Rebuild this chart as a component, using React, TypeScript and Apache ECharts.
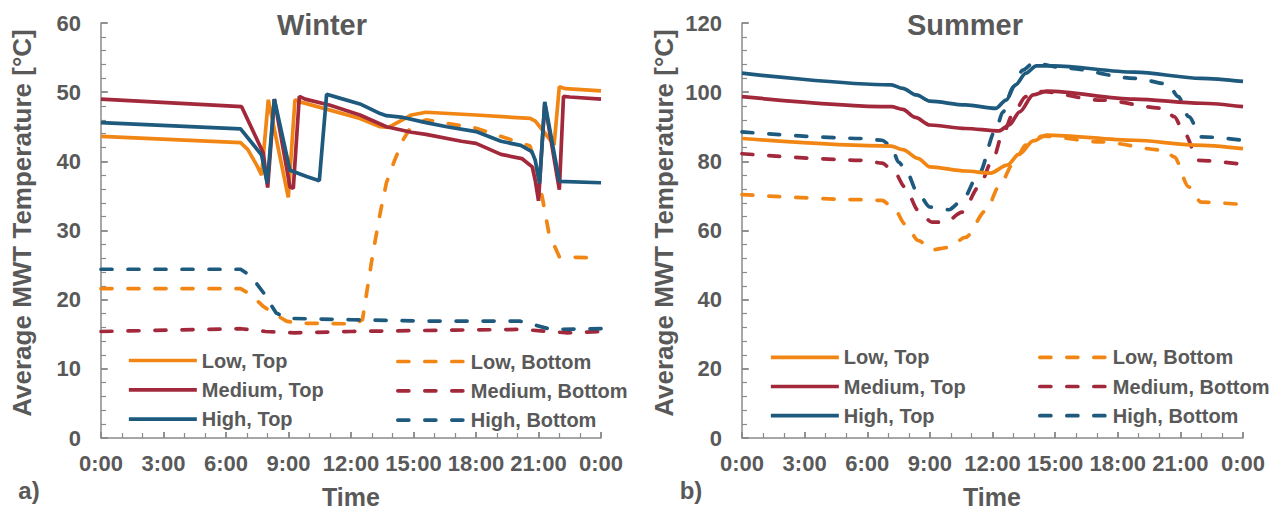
import React, { useEffect, useRef } from "react";
import * as echarts from "echarts";

// ---------- Data (hour of day, temperature °C) ----------
// Winter
const winterLowTop: number[][] = [[0,43.6],[6.7,42.7],[7.05,41.7],[7.5,39.3],[7.71,38.0],[8.03,48.9],[8.99,34.8],[9.31,48.9],[9.55,48.6],[11.0,47.4],[12.43,46.2],[13.4,45.0],[13.8,44.9],[14.4,45.9],[14.9,46.7],[15.6,47.1],[18.0,46.7],[20.6,46.2],[20.85,45.8],[21.3,44.1],[21.75,42.4],[22.0,50.8],[22.3,50.5],[24,50.2]];
const winterMediumTop: number[][] = [[0,49.0],[6.75,47.9],[7.79,41.2],[8.0,36.2],[8.32,49.0],[9.07,36.3],[9.23,36.1],[9.52,49.4],[9.8,49.0],[11.0,48.1],[12.43,46.7],[13.7,45.0],[14.9,44.2],[15.6,43.9],[17.3,42.9],[18.0,42.6],[19.2,41.0],[20.2,40.4],[20.7,39.2],[20.84,37.3],[21.0,34.3],[21.3,48.4],[22.0,35.9],[22.2,49.4],[22.5,49.3],[24,49.0]];
const winterHighTop: number[][] = [[0,45.6],[6.7,44.7],[7.71,40.9],[7.98,36.8],[8.32,49.0],[9.07,38.7],[9.87,37.8],[10.48,37.2],[10.83,49.7],[11.5,49.1],[12.43,48.3],[13.4,46.9],[13.7,46.6],[14.4,46.4],[15.6,45.6],[16.6,45.0],[18.0,44.3],[19.2,42.9],[20.15,42.3],[20.68,41.4],[20.84,40.2],[21.05,36.8],[21.3,48.6],[22.0,37.1],[24,36.9]];
const winterLowBottom: number[][] = [[0,21.6],[6.7,21.6],[7.2,20.7],[7.8,19.0],[8.4,17.8],[8.9,16.9],[9.45,16.6],[12.2,16.5],[12.55,17.1],[12.8,21.9],[13.05,26.7],[13.4,32.5],[13.7,36.9],[14.1,40.2],[14.5,43.1],[14.9,45.1],[15.6,46.0],[18.0,44.8],[19.4,43.4],[20.6,42.2],[20.95,38.3],[21.2,34.5],[21.5,29.6],[22.0,26.2],[24,26.0]];
const winterMediumBottom: number[][] = [[0,15.4],[6.7,15.8],[7.9,15.4],[9.3,15.2],[12,15.4],[17,15.6],[20.2,15.7],[22.4,15.2],[24,15.4]];
const winterHighBottom: number[][] = [[0,24.4],[6.7,24.4],[7.2,23.4],[7.8,21.0],[8.4,18.1],[8.9,17.3],[12,17.1],[15.6,16.9],[20.1,16.9],[20.75,16.4],[21.6,15.7],[24,15.8]];

// Summer
const summerLowTop: number[][] = [[0,86.6],[7.15,84.4],[7.7,83.4],[8.45,80.8],[9.0,78.4],[10.7,77.2],[11.9,76.6],[12.7,78.9],[13.3,82.2],[13.95,85.9],[14.6,87.6],[18.8,86.1],[21.7,84.7],[24,83.7]];
const summerMediumTop: number[][] = [[0,98.7],[7.15,95.8],[7.7,95.0],[8.3,92.7],[9.0,90.5],[10.7,89.5],[12.3,88.8],[12.8,90.5],[13.3,94.3],[13.95,99.2],[14.6,100.3],[18.8,98.0],[22,96.8],[24,95.8]];
const summerHighTop: number[][] = [[0,105.5],[7.15,102.1],[7.7,101.1],[8.35,99.2],[9.0,97.4],[10.7,96.3],[12.15,95.3],[12.65,97.7],[13.1,102.1],[13.6,105.5],[14.1,107.6],[14.9,107.6],[18.8,105.8],[22.0,104.0],[24,103.1]];
const summerLowBottom: number[][] = [[0,70.4],[5.85,68.9],[6.7,68.7],[7.3,66.3],[7.8,61.9],[8.45,57.1],[9.1,54.4],[9.9,55.1],[10.7,58.0],[11.7,65.8],[12.3,72.6],[13.0,79.3],[13.6,84.7],[14.4,87.3],[17.2,85.6],[20.25,83.2],[20.7,81.3],[21.4,72.6],[22.0,68.2],[24,67.5]];
const summerMediumBottom: number[][] = [[0,82.2],[5.85,80.3],[6.7,79.5],[7.3,76.9],[7.8,72.6],[8.45,65.8],[9.1,62.4],[9.75,62.4],[10.55,65.3],[11.35,72.6],[12.0,80.3],[12.5,88.1],[13.0,93.9],[13.6,98.7],[14.25,100.2],[17.2,97.7],[20.25,95.3],[20.7,92.9],[21.2,88.1],[21.85,80.3],[24,79.1]];
const summerHighBottom: number[][] = [[0,88.5],[5.85,86.6],[6.7,86.1],[7.15,84.4],[7.5,79.8],[7.8,77.9],[8.45,70.6],[9.0,66.8],[9.9,66.0],[10.55,68.7],[11.35,76.4],[12.15,89.0],[12.5,94.3],[13.0,101.6],[13.45,106.4],[13.95,108.4],[15.55,106.9],[18.8,104.0],[20.4,102.4],[20.9,98.7],[21.4,92.9],[22.0,87.1],[24,86.1]];

const seriesNames = ["Low, Top", "Medium, Top", "High, Top", "Low, Bottom", "Medium, Bottom", "High, Bottom"];
const chartTitles = ["Winter", "Summer"];
const yMax = [60, 120];
const yInterval = [10, 20];

// ---------- Styles ----------
const FONT = '"Liberation Sans", Arial, Helvetica, sans-serif';
const GRAY = "#595959";
const AXIS = "#8a8a8a";
const ORANGE = "#F28614";
const RED = "#A2283B";
const BLUE = "#1E5A7D";
const COLORS = [ORANGE, RED, BLUE, ORANGE, RED, BLUE];

export default function App() {
  const ref = useRef<HTMLDivElement>(null);

  useEffect(() => {
    if (!ref.current) return;
    const chart = echarts.init(ref.current, undefined, { renderer: "svg" });

    const grids = [
      { left: 101, top: 23, width: 500, height: 415 },
      { left: 742, top: 23, width: 501, height: 415 },
    ];
    const datasets = [
      [winterLowTop, winterMediumTop, winterHighTop, winterLowBottom, winterMediumBottom, winterHighBottom],
      [summerLowTop, summerMediumTop, summerHighTop, summerLowBottom, summerMediumBottom, summerHighBottom],
    ];

    const labelStyle = { color: GRAY, fontSize: 22, fontWeight: "bold" as const, fontFamily: FONT };

    const xAxes: any[] = [];
    const yAxes: any[] = [];
    [0, 1].forEach((g) => {
      xAxes.push({
        type: "value", gridIndex: g, min: 0, max: 24, interval: 3,
        axisLine: { show: true, lineStyle: { color: AXIS, width: 1.5 } },
        axisTick: { show: true, inside: true, length: 6, lineStyle: { color: AXIS, width: 1.5 } },
        minorTick: { show: true, splitNumber: 3, length: 5, lineStyle: { color: AXIS, width: 1.2 } },
        splitLine: { show: false },
        axisLabel: { ...labelStyle, margin: 14, formatter: (v: number) => `${v % 24}:00` },
      });
      yAxes.push({
        type: "value", gridIndex: g, min: 0, max: yMax[g], interval: yInterval[g],
        axisLine: { show: true, lineStyle: { color: AXIS, width: 1.5 } },
        axisTick: { show: true, inside: true, length: 6, lineStyle: { color: AXIS, width: 1.5 } },
        minorTick: { show: true, splitNumber: 5, length: 5, lineStyle: { color: AXIS, width: 1.2 } },
        splitLine: { show: false },
        axisLabel: { ...labelStyle, margin: 20 },
      });
    });
    // overlay axes for outside half of major ticks
    [0, 1].forEach((g) => {
      xAxes.push({
        type: "value", gridIndex: g, min: 0, max: 24, interval: 3,
        axisLine: { show: false }, splitLine: { show: false }, axisLabel: { show: false },
        axisTick: { show: true, inside: false, length: 6, lineStyle: { color: AXIS, width: 1.5 } },
      });
      yAxes.push({
        type: "value", gridIndex: g, min: 0, max: yMax[g], interval: yInterval[g],
        axisLine: { show: false }, splitLine: { show: false }, axisLabel: { show: false },
        axisTick: { show: true, inside: false, length: 7, lineStyle: { color: AXIS, width: 1.5 } },
      });
    });

    const series: any[] = [];
    [0, 1].forEach((g) => {
      datasets[g].forEach((d, i) => {
        series.push({
          type: "line", name: seriesNames[i], data: d,
          xAxisIndex: g, yAxisIndex: g,
          symbol: "none", showSymbol: false,
          smooth: g === 1 ? 0.3 : false, smoothMonotone: g === 1 ? "x" : undefined,
          lineStyle: {
            color: COLORS[i], width: 3.7,
            type: i >= 3 ? [11, 16] : "solid",
            cap: i >= 3 ? "round" : "butt",
          },
          itemStyle: { color: COLORS[i] },
          z: i >= 3 ? 2 : 3,
        });
      });
    });

    const legendBase = {
      orient: "vertical", itemWidth: 68, itemHeight: 20, itemGap: 9.3, padding: 0,
      selectedMode: false,
      itemStyle: { opacity: 0 },
      lineStyle: { width: 3.7 },
      textStyle: { color: GRAY, fontSize: 20, fontWeight: "bold", fontFamily: FONT, lineHeight: 20 },
    };
    const legends = [
      { ...legendBase, left: 127, top: 350.5, data: seriesNames.slice(0, 3) },
      { ...legendBase, left: 396, top: 351.5, data: seriesNames.slice(3) },
      { ...legendBase, left: 769, top: 347.3, itemGap: 9.2, data: seriesNames.slice(0, 3) },
      { ...legendBase, left: 1038, top: 347.3, itemGap: 9.2, data: seriesNames.slice(3) },
    ];

    const txt = (text: string, x: number, y: number, size: number, rot = 0) => ({
      type: "text", x, y, rotation: rot, silent: true,
      style: { text, fill: GRAY, font: `bold ${size}px ${FONT}`, align: "center", verticalAlign: "middle" },
    });
    const yName = "Average MWT Temperature [°C]";

    chart.setOption({
      animation: false,
      backgroundColor: "#ffffff",
      grid: grids,
      xAxis: xAxes,
      yAxis: yAxes,
      legend: legends,
      series,
      graphic: [
        txt(chartTitles[0], 322, 25, 29),
        txt(chartTitles[1], 965, 25, 29),
        txt(yName, 22, 223, 26, Math.PI / 2),
        txt(yName, 664, 223, 26, Math.PI / 2),
        txt("Time", 351, 497, 25),
        txt("Time", 992, 497, 25),
        txt("a)", 29, 490, 24),
        txt("b)", 691, 490, 24),
      ],
    });
    return () => chart.dispose();
  }, []);

  return (
    <div
      ref={ref}
      style={{ position: "fixed", left: 0, top: 0, width: 1282, height: 512, background: "#fff" }}
    />
  );
}
